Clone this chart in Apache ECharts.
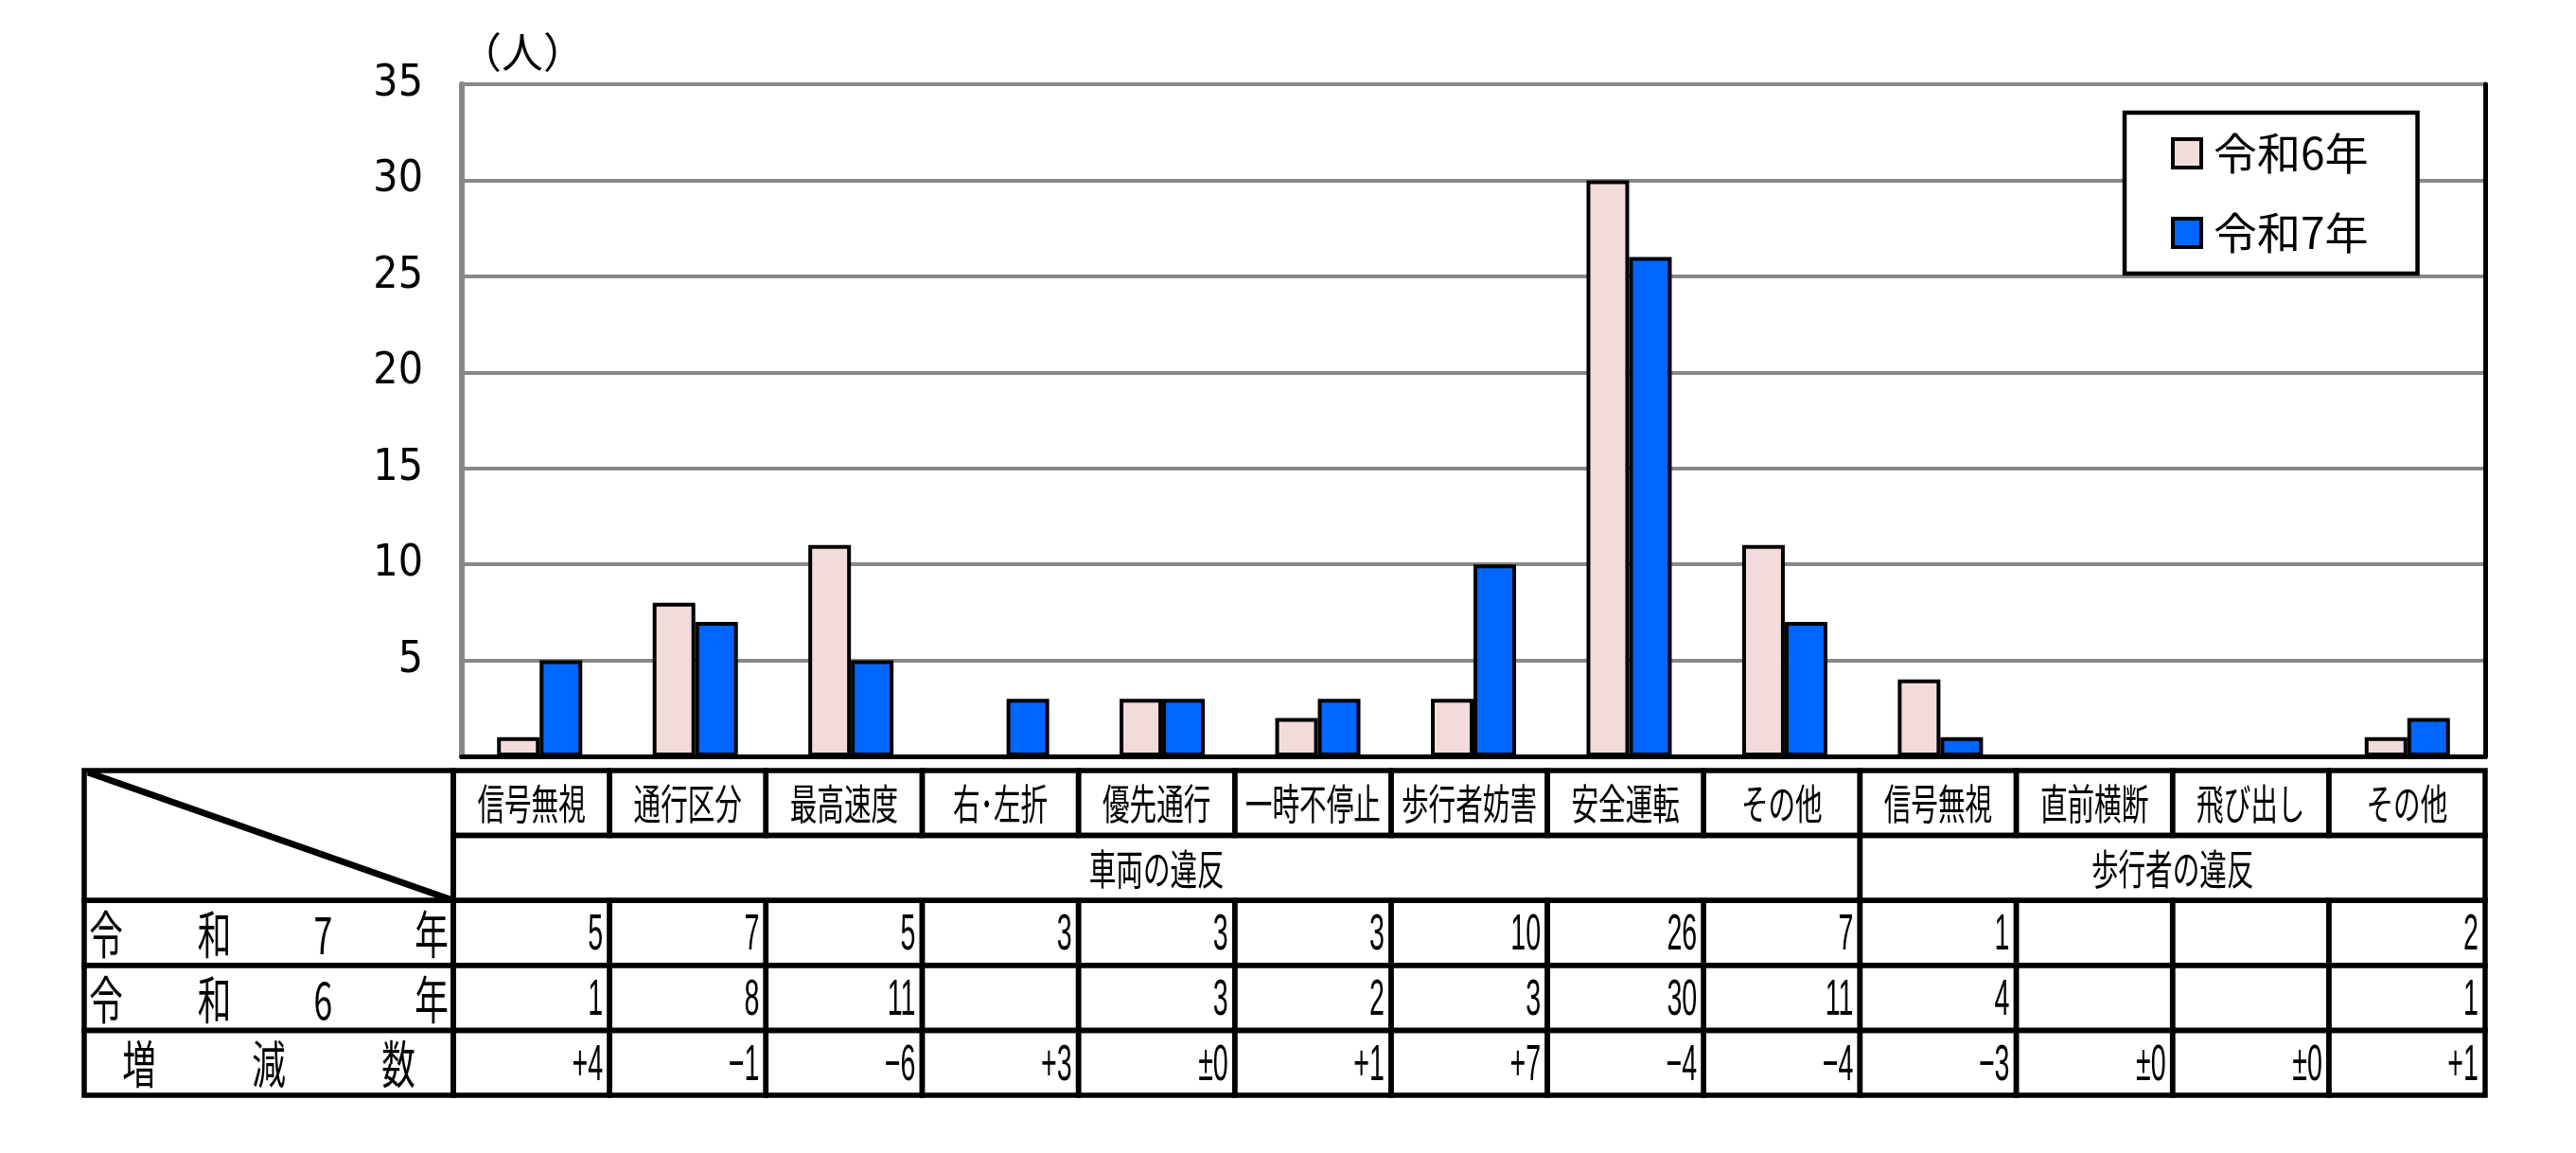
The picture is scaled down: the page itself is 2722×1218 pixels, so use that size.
<!DOCTYPE html>
<html><head><meta charset="utf-8">
<script src="https://cdn.jsdelivr.net/npm/echarts@6/dist/echarts.min.js"></script>
<style>html,body{margin:0;padding:0;background:#fff}#c{width:2722px;height:1218px}</style>
</head><body><div id="c"></div>
<script>
// ---- data ----
const categories = ['信号無視','通行区分','最高速度','右･左折','優先通行','一時不停止','歩行者妨害','安全運転','その他','信号無視','直前横断','飛び出し','その他'];
const groups = [{name:'車両の違反', from:0, to:8}, {name:'歩行者の違反', from:9, to:12}];
const seriesNames = ['令和6年','令和7年'];
const r6 = [1, 8, 11, null, 3, 2, 3, 30, 11, 4, null, null, 1];
const r7 = [5, 7, 5, 3, 3, 3, 10, 26, 7, 1, null, null, 2];
const rowLabels = ['令和7年','令和6年','増減数'];
const rowLabelIndent = [23, 23, 58];
const unitLabel = '（人）';
const yMax = 35, yStep = 5;

// ---- derived ----
const diff = categories.map((_, i) => (r7[i] || 0) - (r6[i] || 0));
const fmtDiff = d => d > 0 ? '+' + d : (d < 0 ? '\u2212' + Math.abs(d) : '±0');
const fmtVal = v => (v === null || v === undefined) ? '' : String(v);

const cells = [];
cells.push({kind:'corner', col:0, row:0, rowSpan:2});
categories.forEach((n, i) => cells.push({kind:'head', col:i, row:0, text:n}));
groups.forEach(g => cells.push({kind:'group', col:g.from, row:1, span:g.to - g.from + 1, text:g.name}));
const rowsData = [r7.map(fmtVal), r6.map(fmtVal), diff.map(fmtDiff)];
rowsData.forEach((arr, k) => {
  cells.push({kind:'label', col:0, row:2 + k, text:rowLabels[k], indent:rowLabelIndent[k]});
  arr.forEach((t, i) => cells.push({kind:'num', col:i, row:2 + k, text:t}));
});

const LABEL_W = 390;
const LW = 5.5;
const CJK = '"Noto Sans CJK JP"';

function txt(x, y, text, font, align, sx) {
  return {type:'text', x:x, y:y, scaleX:sx, scaleY:1,
    style:{x:0, y:0, text:text, font:font, fill:'#000', align:align, verticalAlign:'middle'}};
}

function renderItem(params, api) {
  const c = cells[params.dataIndex];
  const p = api.coord([c.col, c.row]);
  const sz = api.size([1, 1]);
  const w = sz[0], h = sz[1];
  let x = p[0] - w / 2, y = p[1] - h / 2;
  let cw = w * (c.span || 1), ch = h * (c.rowSpan || 1);
  if (c.kind === 'corner' || c.kind === 'label') { x = x - LABEL_W; cw = LABEL_W; }
  const children = [{type:'rect', shape:{x:x, y:y, width:cw, height:ch},
    style:{fill:null, stroke:'#000', lineWidth:LW}}];
  if (c.kind === 'corner') {
    children.push({type:'line', shape:{x1:x + 4, y1:y + 2, x2:x + cw, y2:y + ch},
      style:{stroke:'#000', lineWidth:7}});
  } else if (c.kind === 'head' || c.kind === 'group') {
    children.push(txt(x + cw / 2, y + ch / 2 + 1, c.text, '44px ' + CJK, 'center', 0.65));
  } else if (c.kind === 'num') {
    if (c.text) children.push(txt(x + cw - 7, y + ch / 2 + 3, c.text, '54px "Liberation Sans"', 'right', 0.53));
  } else if (c.kind === 'label') {
    const chars = Array.from(c.text);
    const n = chars.length;
    const step = (cw - 2 * c.indent) / (n - 1);
    chars.forEach((ch1, i) => children.push(txt(x + c.indent + i * step, y + ch / 2 + 2, ch1, '54px ' + CJK, 'center', 0.66)));
  }
  return {type:'group', children:children};
}

const chart = echarts.init(document.getElementById('c'), null, {renderer:'canvas'});
chart.setOption({
  animation:false,
  backgroundColor:'#fff',
  grid:[
    {left:488, right:96, top:89, bottom:419},
    {left:479, right:96, top:814, height:343}
  ],
  legend:{
    data:seriesNames, orient:'vertical', left:2245, top:119,
    padding:[20, 52, 20, 49], itemGap:38, itemWidth:30, itemHeight:30,
    backgroundColor:'#fff', borderColor:'#000', borderWidth:4.5, borderRadius:0,
    icon:'rect',
    itemStyle:{borderColor:'#000', borderWidth:4},
    textStyle:{fontFamily:'Noto Sans CJK JP', fontSize:46, lineHeight:46, color:'#000', padding:[0,0,0,8]}
  },
  graphic:[
    {type:'text', x:486, y:55, scaleX:1, scaleY:1,
     style:{text:unitLabel, font:'44px ' + CJK, fill:'#000', align:'left', verticalAlign:'middle'}}
  ],
  xAxis:[
    {type:'category', gridIndex:0, data:categories, position:'bottom',
     axisLine:{show:true, lineStyle:{color:'#000', width:5}}, axisTick:{show:false}, axisLabel:{show:false}, splitLine:{show:false}},
    {type:'category', gridIndex:0, data:categories, position:'top',
     axisLine:{show:true, lineStyle:{color:'#000', width:5}}, axisTick:{show:false}, axisLabel:{show:false}, splitLine:{show:false}},
    {type:'category', gridIndex:1, data:categories, show:false}
  ],
  yAxis:[
    {type:'value', gridIndex:0, min:0, max:yMax, interval:yStep, position:'left',
     axisLine:{show:true, lineStyle:{color:'#888', width:6}}, axisTick:{show:false},
     axisLabel:{margin:41, color:'#000', fontSize:46, fontFamily:'"Liberation Sans Narrow", "DejaVu Sans Condensed", sans-serif',
       formatter: v => v === 0 ? '' : String(v)},
     splitLine:{show:true, lineStyle:{color:'#888', width:4}}},
    {type:'value', gridIndex:0, min:0, max:yMax, interval:yStep, position:'right',
     axisLine:{show:true, lineStyle:{color:'#000', width:5}}, axisTick:{show:false}, axisLabel:{show:false}, splitLine:{show:false}},
    {type:'category', gridIndex:1, data:['head','group','r7','r6','diff'], inverse:true, show:false}
  ],
  series:[
    {name:seriesNames[0], type:'bar', xAxisIndex:0, yAxisIndex:0, data:r6, barWidth:45, barGap:'0%',
     itemStyle:{color:'#F2DCDB', borderColor:'#000', borderWidth:4}, z:3},
    {name:seriesNames[1], type:'bar', xAxisIndex:0, yAxisIndex:0, data:r7, barWidth:45, barGap:'0%',
     itemStyle:{color:'#0066FF', borderColor:'#000', borderWidth:4}, z:3},
    {type:'custom', xAxisIndex:2, yAxisIndex:2, clip:false, silent:true,
     data:cells.map(c => [c.col, c.row]), encode:{x:0, y:1}, renderItem:renderItem}
  ]
});
</script></body></html>
